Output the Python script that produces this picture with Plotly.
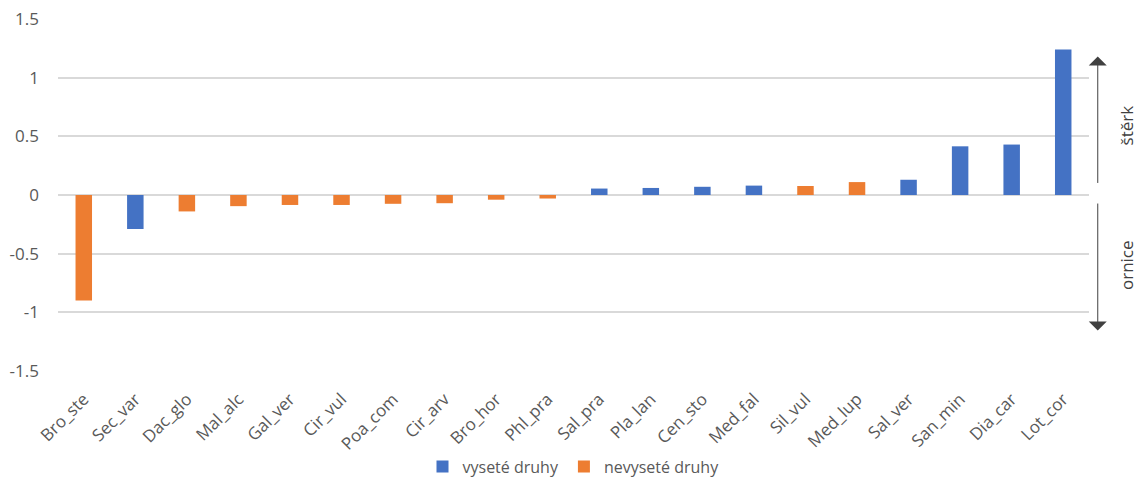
import plotly.graph_objects as go

# Species codes in plotting order
species = ["Bro_ste", "Sec_var", "Dac_glo", "Mal_alc", "Gal_ver", "Cir_vul", "Poa_com",
           "Cir_arv", "Bro_hor", "Phl_pra", "Sal_pra", "Pla_lan", "Cen_sto", "Med_fal",
           "Sil_vul", "Med_lup", "Sal_ver", "San_min", "Dia_car", "Lot_cor"]

# Sown species (None where the species belongs to the other group)
sown = [None, -0.29, None, None, None, None, None,
        None, None, None, 0.055, 0.06, 0.07, 0.08,
        None, None, 0.13, 0.415, 0.43, 1.24]

# Not-sown species
not_sown = [-0.90, None, -0.14, -0.095, -0.085, -0.085, -0.075,
            -0.07, -0.04, -0.03, None, None, None, None,
            0.077, 0.11, None, None, None, None]

y_ticks = [-1.5, -1, -0.5, 0, 0.5, 1, 1.5]
y_tick_text = ["-1.5", "-1", "-0.5", "0", "0.5", "1", "1.5"]

BLUE = "#4472C4"
ORANGE = "#ED7D31"
TEXT = "#595959"
FONT = "Open Sans"

fig = go.Figure()
fig.add_trace(go.Bar(x=species, y=sown, name="vyseté druhy",
                     marker=dict(color=BLUE, line=dict(width=0)), width=0.32))
fig.add_trace(go.Bar(x=species, y=not_sown, name="nevyseté druhy",
                     marker=dict(color=ORANGE, line=dict(width=0)), width=0.32))

# Direction arrows on the right side, outside the plotting area
arrow_x = 1.0085
for tip, tail in [(1.18, 0.09), (-1.155, -0.06)]:
    fig.add_annotation(x=arrow_x, y=tip, xref="paper", yref="y",
                       ax=0, ay=tail, axref="pixel", ayref="y",
                       showarrow=True, arrowhead=1, arrowsize=3,
                       arrowwidth=1, arrowcolor="#404040", text="")
fig.add_annotation(x=1.0365, y=0.59, xref="paper", yref="y", text="štěrk",
                   textangle=-90, showarrow=False, xanchor="center", yanchor="middle",
                   font=dict(family=FONT, size=17, color="#404040"))
fig.add_annotation(x=1.0365, y=-0.6, xref="paper", yref="y", text="ornice",
                   textangle=-90, showarrow=False, xanchor="center", yanchor="middle",
                   font=dict(family=FONT, size=17, color="#404040"))

fig.update_layout(
    width=1141, height=479,
    margin=dict(l=58, r=52, t=19, b=108, autoexpand=False),
    paper_bgcolor="white", plot_bgcolor="white",
    barmode="relative",
    font=dict(family=FONT, size=16, color=TEXT),
    showlegend=True,
    legend=dict(orientation="h", x=0.5, xanchor="center",
                yref="container", y=0.026, yanchor="middle",
                font=dict(family=FONT, size=16, color=TEXT), itemwidth=30,
                traceorder="normal"),
    xaxis=dict(range=[-0.5, 19.5], tickangle=-45, showgrid=False, showline=False,
               ticks="", ticklabelstandoff=14, automargin=False,
               tickfont=dict(family=FONT, size=17, color=TEXT)),
    yaxis=dict(range=[-1.5, 1.5], tickvals=y_ticks, ticktext=y_tick_text,
               showgrid=True, gridcolor="#D9D9D9", gridwidth=1.6, zeroline=False,
               showline=False, ticks="", ticklabelstandoff=18, automargin=False,
               tickfont=dict(family=FONT, size=17, color=TEXT)),
)

fig.write_html("out.html")
